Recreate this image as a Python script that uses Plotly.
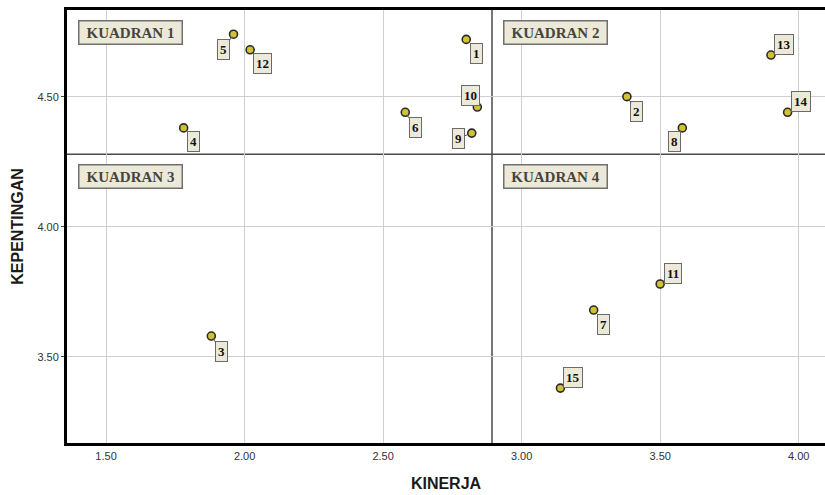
import plotly.graph_objects as go

# ---- data ----
item_labels = ["1", "2", "3", "4", "5", "6", "7", "8", "9", "10", "11", "12", "13", "14", "15"]
kinerja = [2.80, 3.38, 1.88, 1.78, 1.96, 2.58, 3.26, 3.58, 2.82, 2.84, 3.50, 2.02, 3.90, 3.96, 3.14]
kepentingan = [4.72, 4.50, 3.58, 4.38, 4.74, 4.44, 3.68, 4.38, 4.36, 4.46, 3.78, 4.68, 4.66, 4.44, 3.38]

x_ticks = [1.5, 2.0, 2.5, 3.0, 3.5, 4.0]
x_tick_text = ["1.50", "2.00", "2.50", "3.00", "3.50", "4.00"]
y_ticks = [3.5, 4.0, 4.5]
y_tick_text = ["3.50", "4.00", "4.50"]

x_ref = 2.893   # mean KINERJA (vertical quadrant line)
y_ref = 4.279   # mean KEPENTINGAN (horizontal quadrant line)

quadrant_names = ["KUADRAN 1", "KUADRAN 2", "KUADRAN 3", "KUADRAN 4"]

# ---- layout / style ----
X_RANGE = [1.359, 4.095]
Y_RANGE = [3.169, 4.833]
# pixel offsets (dx, dy) of each point label from its point
label_offsets = [(10, 14), (10, 15), (10, 15), (10, 14), (-10, 15), (10, 15), (10, 14), (-8, 14),
                 (-13, 5), (-7, -12), (13, -11), (12, 14), (13, -11), (13, -11), (13, -11)]

BOX_FILL = "#ECE9D8"
SERIF = "Liberation Serif, Times New Roman, serif"
SANS = "Liberation Sans, Arial, sans-serif"

fig = go.Figure()
fig.add_trace(go.Scatter(
    x=kinerja, y=kepentingan, mode="markers",
    marker=dict(size=8, color="#d2c232", line=dict(color="#2a2a2a", width=1.6)),
    hoverinfo="x+y+text", text=item_labels, showlegend=False,
))

annotations = []
for lab, xv, yv, (dx, dy) in zip(item_labels, kinerja, kepentingan, label_offsets):
    annotations.append(dict(
        x=xv, y=yv, xref="x", yref="y", text="<b>%s</b>" % lab,
        showarrow=True, arrowhead=0, arrowwidth=1, arrowcolor="#555555",
        ax=dx, ay=dy, standoff=3,
        font=dict(family=SERIF, size=13, color="#111111"),
        bgcolor=BOX_FILL, bordercolor="#6a6a6a", borderwidth=1, borderpad=2,
    ))

# quadrant labels: anchored at top-left corner of each quadrant
quad_corners = [(X_RANGE[0], Y_RANGE[1]), (x_ref, Y_RANGE[1]), (X_RANGE[0], y_ref), (x_ref, y_ref)]
for name, (qx, qy) in zip(quadrant_names, quad_corners):
    annotations.append(dict(
        x=qx, y=qy, xref="x", yref="y", xanchor="left", yanchor="top",
        xshift=11, yshift=-10, showarrow=False,
        text="<b>%s</b>" % name, width=98, height=18, align="center",
        font=dict(family=SERIF, size=15, color="#45453f"),
        bgcolor=BOX_FILL, bordercolor="#707070", borderwidth=1.5, borderpad=2,
    ))

shapes = [
    dict(type="line", xref="x", yref="paper", x0=x_ref, x1=x_ref, y0=0, y1=1,
         line=dict(color="#4a4a4a", width=1.5), layer="below"),
    dict(type="line", xref="paper", yref="y", x0=0, x1=1, y0=y_ref, y1=y_ref,
         line=dict(color="#4a4a4a", width=1.5), layer="below"),
]

fig.update_layout(
    width=825, height=495,
    margin=dict(l=67, r=0, t=10, b=52, autoexpand=False),
    paper_bgcolor="white", plot_bgcolor="white",
    annotations=annotations, shapes=shapes,
    font=dict(family=SANS, color="#333333"),
    xaxis=dict(
        range=X_RANGE, tickmode="array", tickvals=x_ticks, ticktext=x_tick_text,
        showgrid=True, gridcolor="#cfcfcf", gridwidth=1, zeroline=False,
        showline=True, linecolor="black", linewidth=3, mirror=True, automargin=False,
        ticks="", ticklabelstandoff=1, tickfont=dict(family=SANS, size=11, color="#333333"),
        title=dict(text="<b>KINERJA</b>", font=dict(family=SANS, size=16, color="#1a1a1a"), standoff=17),
    ),
    yaxis=dict(
        range=Y_RANGE, tickmode="array", tickvals=y_ticks, ticktext=y_tick_text,
        showgrid=True, gridcolor="#cfcfcf", gridwidth=1, zeroline=False,
        showline=True, linecolor="black", linewidth=3, mirror=False, automargin=False,
        ticks="outside", ticklen=3, tickcolor="#444444",
        tickfont=dict(family=SANS, size=11, color="#333333"),
        title=dict(text="<b>KEPENTINGAN</b>", font=dict(family=SANS, size=16, color="#1a1a1a"), standoff=10),
    ),
)

fig.write_html("out.html", config={"displayModeBar": False},
               post_script="document.body.style.margin='0';document.body.style.overflow='hidden';")
